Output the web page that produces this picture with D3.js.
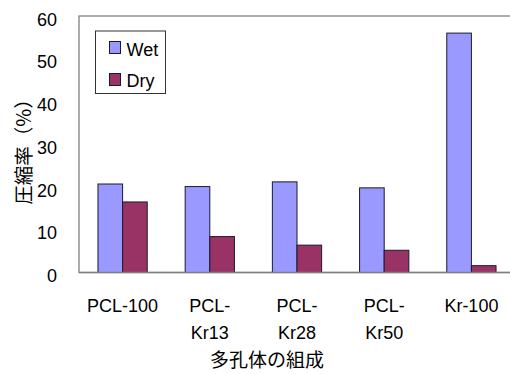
<!DOCTYPE html>
<html>
<head>
<meta charset="utf-8">
<script src="https://cdn.jsdelivr.net/npm/d3@7"></script>
<style>
  body { margin: 0; background: #fff; }
  svg { display: block; font-family: "Liberation Sans", Arial, sans-serif; }
  .cjk { font-family: "Noto Sans CJK JP", "Noto Sans CJK SC", sans-serif; }
</style>
</head>
<body>
<div id="chart"></div>
<script>
// chart data
const categories = ['PCL-100', 'PCL-Kr13', 'PCL-Kr28', 'PCL-Kr50', 'Kr-100'];
const categoryLines = [['PCL-100'], ['PCL-', 'Kr13'], ['PCL-', 'Kr28'], ['PCL-', 'Kr50'], ['Kr-100']];
const seriesNames = ['Wet', 'Dry'];
const wetValues = [20.7, 20.1, 21.2, 19.8, 56.0];
const dryValues = [16.5, 8.4, 6.4, 5.2, 1.6];
const yTicks = [0, 10, 20, 30, 40, 50, 60];
const colors = { Wet: '#9999ff', Dry: '#993366' };

const width = 510, height = 374;
const plot = { left: 79, right: 515, top: 16, bottom: 272.5 };

const svg = d3.select('#chart').append('svg')
    .attr('width', width)
    .attr('height', height);

// scales
const x0 = d3.scaleBand()
    .domain(categories)
    .range([plot.left, plot.right]);

const x1 = d3.scaleBand()
    .domain(seriesNames)
    .range([0, x0.bandwidth()])
    .paddingOuter(0.77);

const y = d3.scaleLinear()
    .domain([0, 60])
    .range([plot.bottom, plot.top]);

// plot area border (top + left visible)
svg.append('rect')
    .attr('x', plot.left)
    .attr('y', y(60))
    .attr('width', plot.right - plot.left + 10)
    .attr('height', y(0) - y(60))
    .attr('fill', 'none')
    .attr('stroke', '#808080')
    .attr('stroke-width', 1.3);

// bars
const rows = categories.map((c, i) => ({ cat: c, Wet: wetValues[i], Dry: dryValues[i] }));
const groups = svg.selectAll('g.group')
    .data(rows)
    .enter()
    .append('g')
    .attr('class', 'group')
    .attr('transform', d => `translate(${x0(d.cat)},0)`);

groups.selectAll('rect')
    .data(d => seriesNames.map(s => ({ s, v: d[s] })))
    .enter()
    .append('rect')
    .attr('x', d => x1(d.s))
    .attr('y', d => y(d.v))
    .attr('width', x1.bandwidth())
    .attr('height', d => y(0) - y(d.v))
    .attr('fill', d => colors[d.s])
    .attr('stroke', '#1a1a2e')
    .attr('stroke-width', 1);

// x axis line
svg.append('line')
    .attr('x1', plot.left).attr('x2', width)
    .attr('y1', y(0)).attr('y2', y(0))
    .attr('stroke', '#808080')
    .attr('stroke-width', 1.3);

// y axis tick labels
const yAxis = svg.append('g')
    .attr('transform', `translate(${plot.left},0)`)
    .call(d3.axisLeft(y).tickValues(yTicks).tickSize(0).tickPadding(22));
yAxis.select('.domain').remove();
yAxis.selectAll('text')
    .attr('font-family', '"Liberation Sans", Arial, sans-serif')
    .attr('font-size', 18)
    .attr('fill', '#000')
    .attr('dy', '0.5em');

// x category labels
const xLabels = svg.append('g');
categories.forEach((c, i) => {
    const t = xLabels.append('text')
        .attr('x', x0(c) + x0.bandwidth() / 2)
        .attr('y', 311.5)
        .attr('text-anchor', 'middle')
        .attr('font-size', 18)
        .attr('fill', '#000');
    categoryLines[i].forEach((line, j) => {
        t.append('tspan')
            .attr('x', x0(c) + x0.bandwidth() / 2)
            .attr('dy', j === 0 ? 0 : 27)
            .text(line);
    });
});

// axis titles
svg.append('text')
    .attr('class', 'cjk')
    .attr('x', 267)
    .attr('y', 367)
    .attr('text-anchor', 'middle')
    .attr('font-size', 19)
    .text('多孔体の組成');

svg.append('text')
    .attr('class', 'cjk')
    .attr('transform', 'translate(31,147) rotate(-90)')
    .attr('text-anchor', 'middle')
    .attr('font-size', 19.5)
    .text('圧縮率（%）');

// legend
const legend = svg.append('g');
legend.append('rect')
    .attr('x', 95.5).attr('y', 31)
    .attr('width', 70).attr('height', 62.5)
    .attr('fill', '#fff')
    .attr('stroke', '#333')
    .attr('stroke-width', 1);

seriesNames.forEach((s, i) => {
    legend.append('rect')
        .attr('x', 109.5).attr('y', 41.5 + i * 32)
        .attr('width', 11).attr('height', 12)
        .attr('fill', colors[s])
        .attr('stroke', '#1a1a2e');
    legend.append('text')
        .attr('x', 126.5).attr('y', 55.5 + i * 31.5)
        .attr('font-size', 18)
        .text(s);
});
</script>
</body>
</html>
